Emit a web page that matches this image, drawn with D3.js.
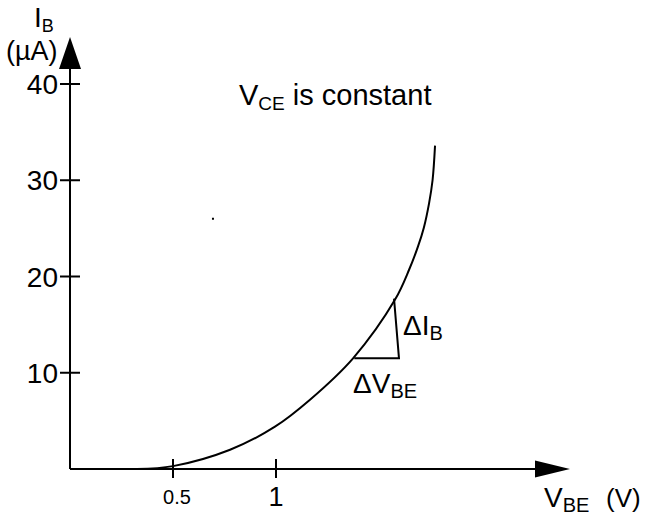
<!DOCTYPE html>
<html>
<head>
<meta charset="utf-8">
<script src="https://cdn.jsdelivr.net/npm/d3@7"></script>
<style>
  html, body { margin: 0; padding: 0; background: #fff; }
  svg { display: block; font-family: "Liberation Sans", Arial, Helvetica, sans-serif; }
</style>
</head>
<body>
<svg id="chart" width="646" height="515"></svg>
<script>
// Input characteristic of a transistor: base current vs base-emitter voltage
const vbe = [0.325, 0.5, 0.777, 0.995, 1.165, 1.374, 1.578, 1.646, 1.689, 1.718, 1.743, 1.760, 1.772];
const ib  = [0.0,   0.3, 2.0,   4.4,   7.2,   11.5,  17.6,  20.7,  23.1,  25.1,  27.6,  30.0,  33.6];

// Delta triangle drawn against the curve
const triV = [1.38, 1.597, 1.573];
const triI = [11.5, 11.5, 17.7];

const yTicks = [10, 20, 30, 40];
const yTickLabels = ["10", "20", "30", "40"];
const xTicks = [0.5, 1];
const xTickLabels = ["0.5", "1"];

// stray speck in the plot area
const speckV = [0.694];
const speckI = [26.0];

const svg = d3.select("#chart");
const x = d3.scaleLinear().domain([0, 1]).range([70, 276]);
const y = d3.scaleLinear().domain([0, 40]).range([469, 84]);

const ink = "#000";

// axes lines
svg.append("line").attr("x1", x(0)).attr("y1", y(0)).attr("x2", 545).attr("y2", y(0))
  .attr("stroke", ink).attr("stroke-width", 2);
svg.append("line").attr("x1", x(0)).attr("y1", y(0)).attr("x2", x(0)).attr("y2", 60)
  .attr("stroke", ink).attr("stroke-width", 2);

// arrow heads
svg.append("path").attr("d", `M${x(0)},37 L${x(0) - 11},69 L${x(0) + 11},69 Z`).attr("fill", ink);
svg.append("path").attr("d", `M570,${y(0)} L535,${y(0) - 8.5} L535,${y(0) + 8.5} Z`).attr("fill", ink);

// y ticks
const yg = svg.append("g");
yg.selectAll("line").data(yTicks).join("line")
  .attr("x1", 60).attr("x2", 80).attr("y1", d => y(d)).attr("y2", d => y(d))
  .attr("stroke", ink).attr("stroke-width", 2);
yg.selectAll("text").data(yTicks).join("text")
  .attr("x", 58).attr("y", d => y(d) + 10)
  .attr("text-anchor", "end").attr("font-size", 28).attr("fill", ink)
  .text((d, i) => yTickLabels[i]);

// x ticks
const xg = svg.append("g");
xg.selectAll("line").data(xTicks).join("line")
  .attr("x1", d => x(d)).attr("x2", d => x(d)).attr("y1", 459).attr("y2", 478)
  .attr("stroke", ink).attr("stroke-width", 2);
xg.selectAll("text").data(xTicks).join("text")
  .attr("x", (d, i) => x(d) + (i === 0 ? 4 : 0)).attr("y", (d, i) => i === 0 ? 504 : 506)
  .attr("text-anchor", "middle").attr("font-size", (d, i) => i === 0 ? 20 : 27).attr("fill", ink)
  .text((d, i) => xTickLabels[i]);

// characteristic curve
const pts = vbe.map((v, i) => [x(v), y(ib[i])]);
svg.append("path")
  .attr("d", d3.line().curve(d3.curveCatmullRom.alpha(0.5))(pts))
  .attr("fill", "none").attr("stroke", ink).attr("stroke-width", 2);

// delta triangle (open side along the curve)
const tri = triV.map((v, i) => [x(v), y(triI[i])]);
svg.append("path").attr("d", d3.line()(tri))
  .attr("fill", "none").attr("stroke", ink).attr("stroke-width", 2);

// speck
svg.selectAll("rect.speck").data(speckV).join("rect").attr("class", "speck")
  .attr("x", (d) => x(d) - 1).attr("y", (d, i) => y(speckI[i]) - 1)
  .attr("width", 2).attr("height", 2).attr("fill", ink);

// text helper with subscript
function subText(px, py, main, sub, size, subSize, tail, drop) {
  const dd = drop || 5;
  const t = svg.append("text").attr("x", px).attr("y", py)
    .attr("font-size", size).attr("fill", ink);
  t.append("tspan").text(main);
  t.append("tspan").attr("font-size", subSize).attr("dy", dd).text(sub);
  if (tail) t.append("tspan").attr("dy", -dd).text(tail);
  return t;
}

subText(34, 27, "I", "B", 28, 18, null, 5);
svg.append("text").attr("x", 6).attr("y", 60).attr("font-size", 27).attr("fill", ink).text("(\u00b5A)");

subText(239, 105, "V", "CE", 29, 19, " is constant");
subText(403, 335, "\u0394I", "B", 28, 20);
subText(353, 393, "\u0394V", "BE", 28, 20);
subText(544, 507, "V", "BE", 28, 20);
svg.append("text").attr("x", 606).attr("y", 507).attr("font-size", 26).attr("fill", ink).text("(V)");
</script>
</body>
</html>
